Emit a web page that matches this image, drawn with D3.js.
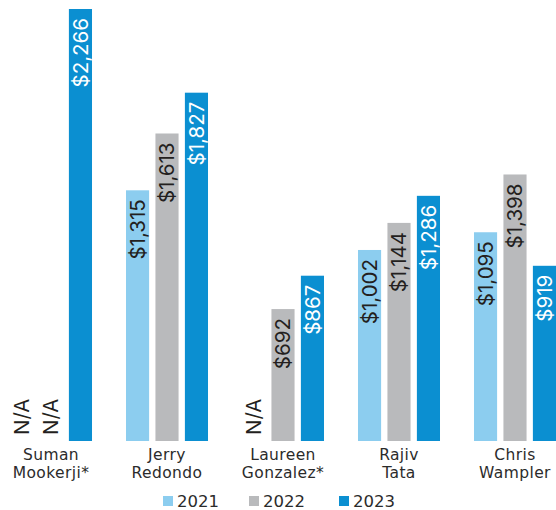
<!DOCTYPE html>
<html>
<head>
<meta charset="utf-8">
<script src="https://cdn.jsdelivr.net/npm/d3@7/dist/d3.min.js"></script>
<style>
  html, body { margin: 0; padding: 0; background: #ffffff; }
  svg { display: block; }
</style>
</head>
<body>
<div id="chart"></div>
<script>
// Executive pay by year (thousands of dollars); null = not available
const people = ["Suman|Mookerji*", "Jerry|Redondo", "Laureen|Gonzalez*", "Rajiv|Tata", "Chris|Wampler"];
const years = ["2021", "2022", "2023"];
const values2021 = [null, 1315, null, 1002, 1095];
const values2022 = [null, 1613, 692, 1144, 1398];
const values2023 = [2266, 1827, 867, 1286, 919];
const yearColors = ["#8ccdef", "#b9babc", "#0b8fd1"];
const labelColors = ["#231f20", "#231f20", "#ffffff"];

const width = 556, height = 510;
const baseY = 441, topY = 9;

const series = [values2021, values2022, values2023];
const rows = [];
people.forEach((p, i) => {
  years.forEach((yr, j) => {
    rows.push({ person: p, year: yr, yi: j, value: series[j][i] });
  });
});

const svg = d3.select("#chart").append("svg")
  .attr("width", width).attr("height", height);

const x0 = d3.scaleBand().domain(people).range([10, 556]).paddingInner(0.293).paddingOuter(0);
const x1 = d3.scaleBand().domain(years).range([0, x0.bandwidth()]).paddingInner(0.215).paddingOuter(0);
const y = d3.scaleLinear().domain([0, d3.max(values2023)]).range([baseY, topY]);
const color = d3.scaleOrdinal().domain(years).range(yearColors);
const labelColor = d3.scaleOrdinal().domain(years).range(labelColors);

const fmt = d => "$" + d3.format(",")(d);

const groups = svg.append("g").selectAll("g")
  .data(people).join("g")
  .attr("transform", d => `translate(${x0(d)},0)`);

const cells = groups.selectAll("g")
  .data(p => rows.filter(r => r.person === p))
  .join("g");

// bars
cells.filter(d => d.value != null).append("rect")
  .attr("x", d => x1(d.year))
  .attr("width", x1.bandwidth())
  .attr("y", d => y(d.value))
  .attr("height", d => y(0) - y(d.value))
  .attr("fill", d => color(d.year));

// rotated value labels inside the top of each bar
cells.filter(d => d.value != null).append("text")
  .attr("transform", d => `translate(${x1(d.year) + x1.bandwidth() / 2},${y(d.value) + 9}) rotate(-90)`)
  .attr("text-anchor", "end")
  .attr("dy", "0.36em")
  .style("font-family", "Inter, 'DejaVu Sans', sans-serif")
  .style("font-size", "20.5px")
  .attr("fill", d => labelColor(d.year))
  .text(d => fmt(d.value));

// N/A markers for missing years
cells.filter(d => d.value == null).append("text")
  .attr("transform", d => `translate(${x1(d.year) + x1.bandwidth() / 2},${baseY - 6}) rotate(-90)`)
  .attr("text-anchor", "start")
  .attr("dy", "0.36em")
  .style("font-family", "Inter, 'DejaVu Sans', sans-serif")
  .style("font-size", "20.5px")
  .attr("fill", "#231f20")
  .text("N/A");

// category labels (two lines)
const cat = groups.append("text")
  .attr("text-anchor", "middle")
  .style("font-family", "'DejaVu Sans', sans-serif")
  .style("font-size", "15.5px")
  .style("letter-spacing", "0.4px")
  .attr("fill", "#2b2b2b");
cat.selectAll("tspan")
  .data(d => d.split("|"))
  .join("tspan")
  .attr("x", x0.bandwidth() / 2)
  .attr("y", (d, i) => 460 + i * 18.2)
  .text(d => d);

// legend
const legendX = [163, 249, 339];
const legend = svg.append("g").selectAll("g")
  .data(years).join("g")
  .attr("transform", (d, i) => `translate(${legendX[i]},0)`);
legend.append("rect")
  .attr("x", 0).attr("y", 496).attr("width", 10).attr("height", 10)
  .attr("fill", d => color(d));
legend.append("text")
  .attr("x", 14).attr("y", 506.5)
  .style("font-family", "'DejaVu Sans', sans-serif")
  .style("font-size", "16.5px")
  .attr("fill", "#2b2b2b")
  .text(d => d);
</script>
</body>
</html>
